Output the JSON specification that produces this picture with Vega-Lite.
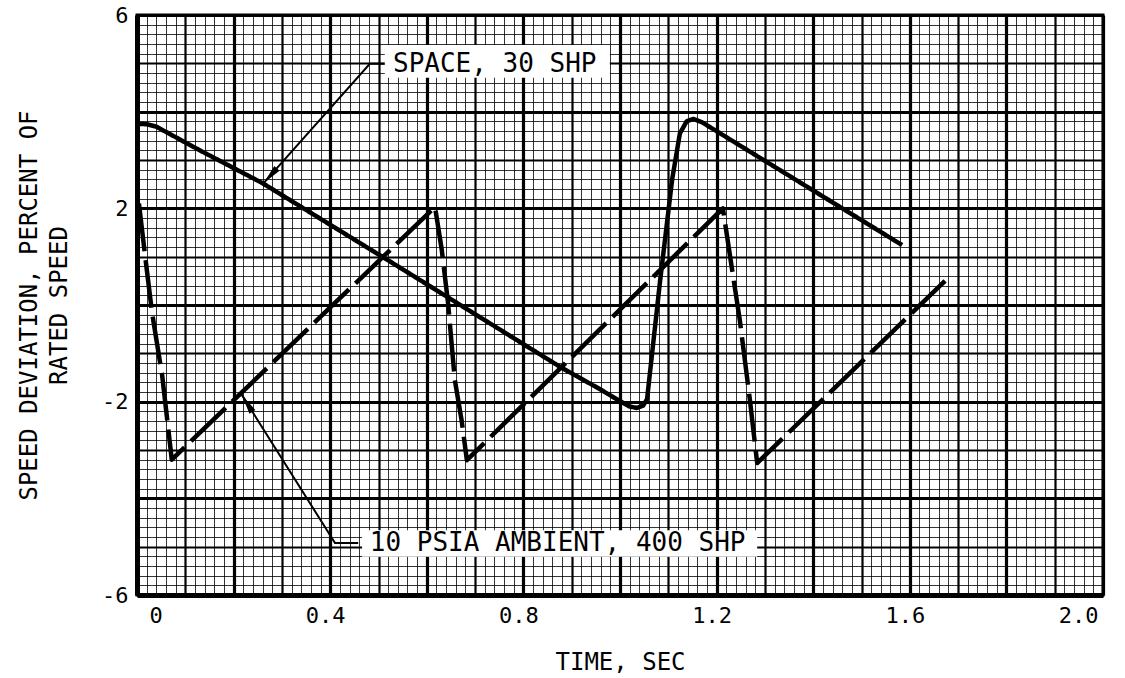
{
  "$schema": "https://vega.github.io/schema/vega-lite/v6.json",
  "autosize": "none",
  "width": 966,
  "height": 580,
  "padding": {"left": 137, "top": 15, "right": 22, "bottom": 83},
  "background": "white",
  "config": {
    "view": {"stroke": "black", "strokeWidth": 3},
    "font": "DejaVu Sans Mono"
  },
  "datasets": {
    "curves": [
      {"series": "SPACE, 30 SHP", "t": 0, "v": 3.75},
      {"series": "SPACE, 30 SHP", "t": 0.02, "v": 3.74},
      {"series": "SPACE, 30 SHP", "t": 0.04, "v": 3.69},
      {"series": "SPACE, 30 SHP", "t": 0.13, "v": 3.2},
      {"series": "SPACE, 30 SHP", "t": 0.26, "v": 2.52},
      {"series": "SPACE, 30 SHP", "t": 0.545, "v": 0.77},
      {"series": "SPACE, 30 SHP", "t": 0.876, "v": -1.28},
      {"series": "SPACE, 30 SHP", "t": 0.96, "v": -1.75},
      {"series": "SPACE, 30 SHP", "t": 1.0, "v": -1.99},
      {"series": "SPACE, 30 SHP", "t": 1.02, "v": -2.1},
      {"series": "SPACE, 30 SHP", "t": 1.035, "v": -2.13},
      {"series": "SPACE, 30 SHP", "t": 1.048, "v": -2.08},
      {"series": "SPACE, 30 SHP", "t": 1.056, "v": -1.95},
      {"series": "SPACE, 30 SHP", "t": 1.083, "v": 0.5},
      {"series": "SPACE, 30 SHP", "t": 1.108, "v": 2.6},
      {"series": "SPACE, 30 SHP", "t": 1.124, "v": 3.55},
      {"series": "SPACE, 30 SHP", "t": 1.138, "v": 3.8},
      {"series": "SPACE, 30 SHP", "t": 1.152, "v": 3.85},
      {"series": "SPACE, 30 SHP", "t": 1.17, "v": 3.78},
      {"series": "SPACE, 30 SHP", "t": 1.584, "v": 1.24},
      {"series": "10 PSIA AMBIENT, 400 SHP", "t": 0.004, "v": 2.1},
      {"series": "10 PSIA AMBIENT, 400 SHP", "t": 0.017, "v": 1.0},
      {"series": "10 PSIA AMBIENT, 400 SHP", "t": 0.031, "v": -0.15},
      {"series": "10 PSIA AMBIENT, 400 SHP", "t": 0.052, "v": -1.45},
      {"series": "10 PSIA AMBIENT, 400 SHP", "t": 0.072, "v": -3.2},
      {"series": "10 PSIA AMBIENT, 400 SHP", "t": 0.617, "v": 2.03},
      {"series": "10 PSIA AMBIENT, 400 SHP", "t": 0.631, "v": 1.14},
      {"series": "10 PSIA AMBIENT, 400 SHP", "t": 0.644, "v": 0.04},
      {"series": "10 PSIA AMBIENT, 400 SHP", "t": 0.658, "v": -1.55},
      {"series": "10 PSIA AMBIENT, 400 SHP", "t": 0.672, "v": -2.38},
      {"series": "10 PSIA AMBIENT, 400 SHP", "t": 0.683, "v": -3.21},
      {"series": "10 PSIA AMBIENT, 400 SHP", "t": 1.213, "v": 2.0},
      {"series": "10 PSIA AMBIENT, 400 SHP", "t": 1.228, "v": 1.0},
      {"series": "10 PSIA AMBIENT, 400 SHP", "t": 1.248, "v": -0.31},
      {"series": "10 PSIA AMBIENT, 400 SHP", "t": 1.269, "v": -1.97},
      {"series": "10 PSIA AMBIENT, 400 SHP", "t": 1.284, "v": -3.27},
      {"series": "10 PSIA AMBIENT, 400 SHP", "t": 1.673, "v": 0.5}
    ],
    "leaders": [
      {"label": "SPACE, 30 SHP", "k": 0, "t": 0.262, "v": 2.52},
      {"label": "SPACE, 30 SHP", "k": 1, "t": 0.482, "v": 4.99},
      {"label": "SPACE, 30 SHP", "k": 2, "t": 0.516, "v": 4.99},
      {"label": "10 PSIA AMBIENT, 400 SHP", "k": 0, "t": 0.217, "v": -1.86},
      {"label": "10 PSIA AMBIENT, 400 SHP", "k": 1, "t": 0.41, "v": -4.925},
      {"label": "10 PSIA AMBIENT, 400 SHP", "k": 2, "t": 0.458, "v": -4.925}
    ],
    "labels": [
      {"label": "SPACE, 30 SHP", "t": 0.53, "v": 4.99, "t0": 0.513, "t1": 0.979, "v0": 4.7, "v1": 5.38},
      {"label": "10 PSIA AMBIENT, 400 SHP", "t": 0.482, "v": -4.925, "t0": 0.466, "t1": 1.284, "v0": -5.21, "v1": -4.66}
    ]
  },
  "layer": [
    {
      "data": {"name": "curves"},
      "mark": {"type": "line", "color": "black", "strokeWidth": 4.5, "strokeJoin": "round", "strokeCap": "butt"},
      "encoding": {
        "x": {
          "field": "t", "type": "quantitative",
          "scale": {"domain": [0, 2], "nice": false, "zero": false},
          "axis": {
            "title": "TIME, SEC",
            "titleFontSize": 24, "titleFontWeight": "normal", "titlePadding": 24, "titleColor": "black",
            "tickCount": 500,
            "values": [0,0.02,0.04,0.06,0.08,0.1,0.12,0.14,0.16,0.18,0.2,0.22,0.24,0.26,0.28,0.3,0.32,0.34,0.36,0.38,0.4,0.42,0.44,0.46,0.48,0.5,0.52,0.54,0.56,0.58,0.6,0.62,0.64,0.66,0.68,0.7,0.72,0.74,0.76,0.78,0.8,0.82,0.84,0.86,0.88,0.9,0.92,0.94,0.96,0.98,1,1.02,1.04,1.06,1.08,1.1,1.12,1.14,1.16,1.18,1.2,1.22,1.24,1.26,1.28,1.3,1.32,1.34,1.36,1.38,1.4,1.42,1.44,1.46,1.48,1.5,1.52,1.54,1.56,1.58,1.6,1.62,1.64,1.66,1.68,1.7,1.72,1.74,1.76,1.78,1.8,1.82,1.84,1.86,1.88,1.9,1.92,1.94,1.96,1.98,2],
            "labelExpr": "abs(datum.value*2.5-round(datum.value*2.5))<0.001 ? (datum.value==0 ? '0' : format(datum.value,'.1f')) : ''",
            "labelOverlap": false,
            "labelFontSize": 22, "labelColor": "black", "labelPadding": 10,
            "labelOffset": {"condition": {"test": "datum.value==0", "value": 12}, "value": -5},
            "ticks": false,
            "domainColor": "black", "domainWidth": 5,
            "grid": true,
            "gridColor": "black",
            "gridOpacity": {"condition": [{"test": "abs(datum.value*10-round(datum.value*10))<0.001", "value": 1}], "value": 0.8},
            "gridWidth": {"condition": [
              {"test": "abs(datum.value*5-round(datum.value*5))<0.001", "value": 3.2},
              {"test": "abs(datum.value*10-round(datum.value*10))<0.001", "value": 2.2}
            ], "value": 1}
          }
        },
        "y": {
          "field": "v", "type": "quantitative",
          "scale": {"domain": [-6, 6], "nice": false, "zero": false},
          "axis": {
            "title": ["SPEED DEVIATION, PERCENT OF", "RATED SPEED"],
            "titleFontSize": 24, "titleFontWeight": "normal", "titleLineHeight": 30, "titlePadding": 30, "titleColor": "black",
            "tickCount": 500,
            "values": [-6,-5.8,-5.6,-5.4,-5.2,-5,-4.8,-4.6,-4.4,-4.2,-4,-3.8,-3.6,-3.4,-3.2,-3,-2.8,-2.6,-2.4,-2.2,-2,-1.8,-1.6,-1.4,-1.2,-1,-0.8,-0.6,-0.4,-0.2,0,0.2,0.4,0.6,0.8,1,1.2,1.4,1.6,1.8,2,2.2,2.4,2.6,2.8,3,3.2,3.4,3.6,3.8,4,4.2,4.4,4.6,4.8,5,5.2,5.4,5.6,5.8,6],
            "labelExpr": "abs((datum.value+6)/4-round((datum.value+6)/4))<0.001 ? '' + round(datum.value) : ''",
            "labelOverlap": false,
            "labelFontSize": 22, "labelColor": "black", "labelPadding": 9,
            "ticks": false,
            "domainColor": "black", "domainWidth": 5,
            "grid": true,
            "gridColor": "black",
            "gridOpacity": {"condition": [{"test": "abs(datum.value-round(datum.value))<0.001", "value": 1}], "value": 0.8},
            "gridWidth": {"condition": [
              {"test": "abs(datum.value/2-round(datum.value/2))<0.001", "value": 3.2},
              {"test": "abs(datum.value-round(datum.value))<0.001", "value": 2.2}
            ], "value": 1}
          }
        },
        "strokeDash": {
          "field": "series", "type": "nominal",
          "scale": {"domain": ["SPACE, 30 SHP", "10 PSIA AMBIENT, 400 SHP"], "range": [[1, 0], [48, 9]]},
          "legend": null
        }
      }
    },
    {
      "data": {"name": "leaders"},
      "mark": {"type": "line", "color": "black", "strokeWidth": 2},
      "encoding": {
        "x": {"field": "t", "type": "quantitative"},
        "y": {"field": "v", "type": "quantitative"},
        "detail": {"field": "label"},
        "order": {"field": "k"}
      }
    },
    {
      "data": {"name": "leaders"},
      "transform": [{"filter": "datum.k == 0 && datum.label == 'SPACE, 30 SHP'"}],
      "mark": {"type": "point", "shape": "M0,0L0.35,2L-0.35,2Z", "size": 400, "filled": true, "color": "black", "opacity": 1, "angle": 222},
      "encoding": {
        "x": {"field": "t", "type": "quantitative"},
        "y": {"field": "v", "type": "quantitative"}
      }
    },
    {
      "data": {"name": "leaders"},
      "transform": [{"filter": "datum.k == 0 && datum.label != 'SPACE, 30 SHP'"}],
      "mark": {"type": "point", "shape": "M0,0L0.35,2L-0.35,2Z", "size": 400, "filled": true, "color": "black", "opacity": 1, "angle": 328},
      "encoding": {
        "x": {"field": "t", "type": "quantitative"},
        "y": {"field": "v", "type": "quantitative"}
      }
    },
    {
      "data": {"name": "labels"},
      "mark": {"type": "rect", "color": "white", "opacity": 1},
      "encoding": {
        "x": {"field": "t0", "type": "quantitative"},
        "x2": {"field": "t1"},
        "y": {"field": "v0", "type": "quantitative"},
        "y2": {"field": "v1"}
      }
    },
    {
      "data": {"name": "labels"},
      "mark": {"type": "text", "align": "left", "baseline": "middle", "font": "DejaVu Sans Mono", "fontSize": 26, "color": "black"},
      "encoding": {
        "x": {"field": "t", "type": "quantitative"},
        "y": {"field": "v", "type": "quantitative"},
        "text": {"field": "label"}
      }
    }
  ]
}
